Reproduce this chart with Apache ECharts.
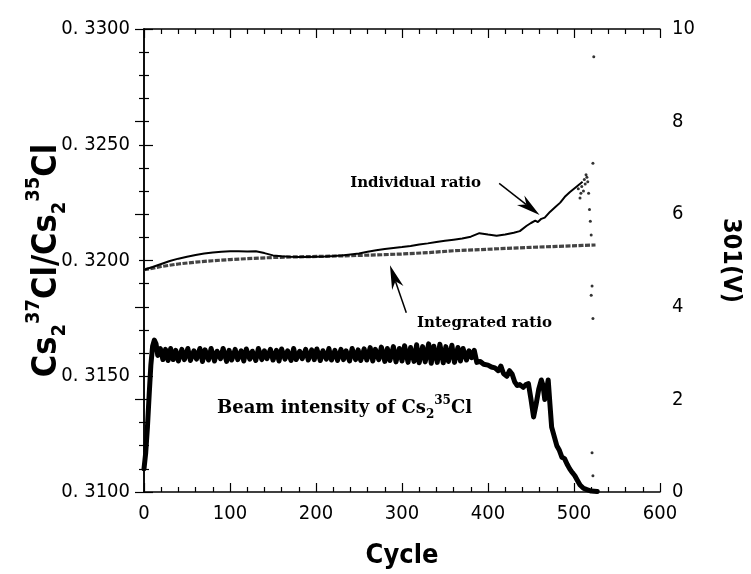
<!DOCTYPE html>
<html>
<head>
<meta charset="utf-8">
<script src="https://cdn.jsdelivr.net/npm/echarts@6/dist/echarts.min.js"></script>
<style>
  html, body { margin: 0; padding: 0; background: #fff; }
  #main { width: 751px; height: 574px; }
</style>
</head>
<body>
<div id="main"></div>
<script>
// individual ratio (cycle, Cs2 37Cl / Cs2 35Cl)
var individualRatio = [
  [0,0.31960],[10,0.31972],[20,0.31985],[30,0.31998],[40,0.32008],[50,0.32016],[60,0.32024],
  [70,0.32030],[80,0.32035],[90,0.32038],[100,0.32040],[110,0.32040],[120,0.32039],[130,0.32040],
  [140,0.32032],[150,0.32022],[160,0.32018],[170,0.32016],[180,0.32015],[190,0.32015],[200,0.32016],
  [210,0.32017],[220,0.32019],[230,0.32022],[240,0.32026],[250,0.32030],[260,0.32038],[270,0.32044],
  [280,0.32050],[290,0.32054],[300,0.32058],[310,0.32063],[320,0.32069],[330,0.32074],[340,0.32080],
  [350,0.32085],[360,0.32090],[370,0.32095],[380,0.32103],[390,0.32118],[400,0.32112],[410,0.32107],
  [420,0.32112],[430,0.32120],[437,0.32127],[445,0.32150],[450,0.32162],[455,0.32172],[458,0.32166],
  [462,0.32180],[466,0.32185],[472,0.32210],[478,0.32230],[484,0.32250],[490,0.32278],[495,0.32295],
  [500,0.32310],[505,0.32325],[510,0.32340]
];
// scattered individual points at the end of the run
var individualTail = [
  [505,0.3231],[507,0.3227],[508,0.3229],[509,0.3232],[511,0.3230],[512,0.3235],[513,0.3233],
  [514,0.3237],[515,0.3236],[516,0.3234],[517,0.3229],[518,0.3222],[519,0.3217],[520,0.3211],
  [522,0.3242],[523,0.3288],[521,0.3189],[520,0.3185],[522,0.3175],[521,0.3117],[522,0.3107]
];
// integrated ratio
var integratedRatio = [
  [0,0.31960],[20,0.31974],[40,0.31985],[60,0.31993],[80,0.31999],[100,0.32004],[120,0.32008],
  [150,0.32013],[180,0.32016],[210,0.32018],[240,0.32021],[270,0.32024],[300,0.32028],[330,0.32034],
  [360,0.32042],[390,0.32047],[420,0.32052],[450,0.32057],[480,0.32061],[510,0.32065],[525,0.32067]
];
// beam intensity of Cs2 35Cl (V)
var beamIntensity = [
  [0,0.5],[2,0.85],[4,1.4],[6,2.1],[8,2.75],[10,3.15],[12,3.28],[14,3.2],[16,2.95],[19,3.1],[22,2.86],
  [25,3.08],[28,2.84],[31,3.1],[34,2.86],[37,3.06],[40,2.83],[44,3.08],[47,2.86],[51,3.1],[54,2.84],
  [58,3.05],[61,2.87],[65,3.1],[68,2.82],[71,3.07],[75,2.85],[78,3.1],[82,2.83],[85,3.04],[89,2.88],
  [92,3.1],[96,2.82],[99,3.06],[102,2.85],[106,3.08],[109,2.86],[113,3.05],[116,2.83],[119,3.09],
  [123,2.87],[126,3.04],[130,2.84],[133,3.1],[137,2.86],[140,3.05],[143,2.88],[147,3.08],[150,2.85],
  [154,3.06],[157,2.83],[160,3.09],[164,2.87],[167,3.05],[171,2.84],[174,3.1],[177,2.86],[181,3.04],
  [184,2.88],[188,3.08],[191,2.85],[195,3.07],[198,2.86],[201,3.09],[205,2.84],[208,3.05],[212,2.87],
  [215,3.1],[218,2.85],[222,3.06],[225,2.84],[229,3.08],[232,2.86],[235,3.05],[239,2.83],[242,3.1],
  [246,2.86],[249,3.07],[252,2.84],[256,3.09],[259,2.85],[263,3.12],[266,2.83],[269,3.08],[273,2.86],
  [276,3.13],[280,2.82],[283,3.1],[286,2.84],[290,3.14],[293,2.81],[297,3.1],[300,2.83],[303,3.16],
  [307,2.8],[310,3.12],[314,2.82],[317,3.18],[320,2.79],[324,3.14],[327,2.81],[331,3.2],[334,2.78],
  [337,3.15],[341,2.8],[344,3.19],[348,2.79],[351,3.14],[354,2.82],[358,3.17],[361,2.8],[365,3.12],
  [368,2.83],[371,3.1],[375,2.85],[378,3.05],[381,2.9],[384,3.06],[387,2.8],[391,2.82],[395,2.76],
  [400,2.74],[404,2.7],[408,2.68],[412,2.62],[415,2.72],[418,2.56],[422,2.5],[425,2.62],[428,2.55],
  [431,2.38],[434,2.3],[437,2.32],[441,2.26],[444,2.32],[447,2.34],[450,2.0],[453,1.62],[456,1.9],
  [459,2.22],[462,2.42],[464,2.3],[466,2.0],[468,2.2],[470,2.42],[472,1.9],[474,1.4],[477,1.2],
  [480,1.0],[483,0.9],[486,0.75],[489,0.72],[492,0.6],[495,0.5],[498,0.42],[501,0.35],[504,0.25],
  [507,0.15],[511,0.08],[515,0.05],[520,0.02],[527,0.01]
];
// annotation arrows, [tail, tip] in (cycle, ratio)
var individualArrow = [[413, 0.32333], [460, 0.32197]];
var integratedArrow = [[305, 0.31774], [286, 0.31979]];

var tickFont = "'Liberation Sans Narrow', 'DejaVu Sans Condensed', sans-serif";
var titleFont = "'DejaVu Sans Condensed', 'Liberation Sans', sans-serif";
var noteFont = "'DejaVu Serif', serif";

function axisStyle(){
	return {
		axisLine: {show: true, lineStyle: {color: '#000', width: 1.5}},
		axisTick: {show: true, inside: true, length: 9, lineStyle: {color: '#000', width: 1.2}},
		minorTick: {show: true, length: 5, lineStyle: {color: '#000', width: 1.2}},
		splitLine: {show: false}
	};
}

var xBottom = axisStyle();
xBottom.type = 'value'; xBottom.min = 0; xBottom.max = 600; xBottom.interval = 100;
xBottom.minorTick.splitNumber = 5;
xBottom.axisLabel = {color: '#000', fontSize: 20, fontFamily: tickFont, margin: 12};
xBottom.name = 'Cycle';
xBottom.nameLocation = 'middle';
xBottom.nameGap = 50;
xBottom.nameTextStyle = {color: '#000', fontSize: 27, fontWeight: 'bold', fontFamily: titleFont};

var xTop = axisStyle();
xTop.type = 'value'; xTop.min = 0; xTop.max = 600; xTop.interval = 100; xTop.position = 'top';
xTop.minorTick.splitNumber = 5;
xTop.axisLabel = {show: false};

var yLeft = axisStyle();
yLeft.type = 'value'; yLeft.min = 0.31; yLeft.max = 0.33; yLeft.interval = 0.005;
yLeft.minorTick.splitNumber = 5;
yLeft.axisLabel = {color: '#000', fontSize: 20, fontFamily: tickFont, margin: 14,
	formatter: function(v){ return v.toFixed(4).replace('0.', '0. '); }};
yLeft.name = '{m|Cs}{sub|2}{sup|37}{m|Cl/Cs}{sub|2}{sup|35}{m|Cl}';
yLeft.nameLocation = 'middle';
yLeft.nameRotate = 90;
yLeft.nameGap = 74;
yLeft.nameMoveOverlap = false;
yLeft.nameTextStyle = {
	color: '#000', fontWeight: 'bold', fontFamily: titleFont,
	rich: {
		m: {fontSize: 34, fontWeight: 'bold', fontFamily: titleFont, lineHeight: 46, color: '#000'},
		sub: {fontSize: 20, fontWeight: 'bold', fontFamily: titleFont, lineHeight: 20, verticalAlign: 'bottom', color: '#000'},
		sup: {fontSize: 20, fontWeight: 'bold', fontFamily: titleFont, lineHeight: 20, verticalAlign: 'top', color: '#000'}
	}
};

var yRight = axisStyle();
yRight.type = 'value'; yRight.min = 0; yRight.max = 10; yRight.interval = 2; yRight.position = 'right';
yRight.minorTick.splitNumber = 4;
yRight.axisLabel = {color: '#000', fontSize: 20, fontFamily: tickFont, margin: 12};
yRight.name = '301(V)';
yRight.nameLocation = 'middle';
yRight.nameRotate = -90;
yRight.nameGap = 58;
yRight.nameTextStyle = {color: '#000', fontSize: 25, fontWeight: 'bold', fontFamily: titleFont};

var option = {
	backgroundColor: '#fff',
	animation: false,
	grid: {left: 144, right: 91, top: 29, bottom: 77, containLabel: false},
	xAxis: [xBottom, xTop],
	yAxis: [yLeft, yRight],
	series: [
		{
			name: 'Beam intensity', type: 'line', xAxisIndex: 0, yAxisIndex: 1,
			data: beamIntensity, showSymbol: false, smooth: false,
			lineStyle: {color: '#000', width: 5, join: 'round', cap: 'round'}
		},
		{
			name: 'Integrated ratio', type: 'line', xAxisIndex: 0, yAxisIndex: 0,
			data: integratedRatio, showSymbol: false,
			lineStyle: {color: '#444', width: 3.2, type: [5, 1.5]}
		},
		{
			name: 'Individual ratio', type: 'line', xAxisIndex: 0, yAxisIndex: 0,
			data: individualRatio, showSymbol: false,
			lineStyle: {color: '#000', width: 2}
		},
		{
			name: 'Individual tail', type: 'scatter', xAxisIndex: 0, yAxisIndex: 0,
			data: individualTail, symbolSize: 3, itemStyle: {color: '#000'}
		}
	]
};

var chart = echarts.init(document.getElementById('main'));
chart.setOption(option);

// 画注释箭头
function arrowShapes(pair){
	var a = chart.convertToPixel({xAxisIndex: 0, yAxisIndex: 0}, pair[0]);
	var b = chart.convertToPixel({xAxisIndex: 0, yAxisIndex: 0}, pair[1]);
	var dx = b[0] - a[0], dy = b[1] - a[1];
	var len = Math.sqrt(dx*dx + dy*dy);
	var ux = dx/len, uy = dy/len, nx = -uy, ny = ux;
	var L = 24, W = 6;
	return [
		{type: 'line', shape: {x1: a[0], y1: a[1], x2: b[0] - ux*L*0.7, y2: b[1] - uy*L*0.7},
			style: {stroke: '#000', lineWidth: 1.5}},
		{type: 'polygon', shape: {points: [
			[b[0], b[1]],
			[b[0] - ux*L + nx*W, b[1] - uy*L + ny*W],
			[b[0] - ux*L*0.7, b[1] - uy*L*0.7],
			[b[0] - ux*L - nx*W, b[1] - uy*L - ny*W]
		]}, style: {fill: '#000'}}
	];
}

var graphics = [].concat(arrowShapes(individualArrow), arrowShapes(integratedArrow));
graphics.push({type: 'text', x: 481, y: 183, style: {text: 'Individual ratio', align: 'right', verticalAlign: 'middle',
	fontSize: 15, fontWeight: 'bold', fontFamily: noteFont, fill: '#000'}});
graphics.push({type: 'text', x: 417, y: 323, style: {text: 'Integrated ratio', align: 'left', verticalAlign: 'middle',
	fontSize: 15, fontWeight: 'bold', fontFamily: noteFont, fill: '#000'}});
graphics.push({type: 'text', x: 217, y: 408, style: {
	text: '{m|Beam intensity of Cs}{sub|2}{sup|35}{m|Cl}', align: 'left', verticalAlign: 'middle',
	rich: {
		m: {fontSize: 18, fontWeight: 'bold', fontFamily: noteFont, lineHeight: 26, fill: '#000'},
		sub: {fontSize: 12, fontWeight: 'bold', fontFamily: noteFont, lineHeight: 12, verticalAlign: 'bottom', fill: '#000'},
		sup: {fontSize: 12, fontWeight: 'bold', fontFamily: noteFont, lineHeight: 12, verticalAlign: 'top', fill: '#000'}
	}}});
chart.setOption({graphic: graphics});
</script>
</body>
</html>
